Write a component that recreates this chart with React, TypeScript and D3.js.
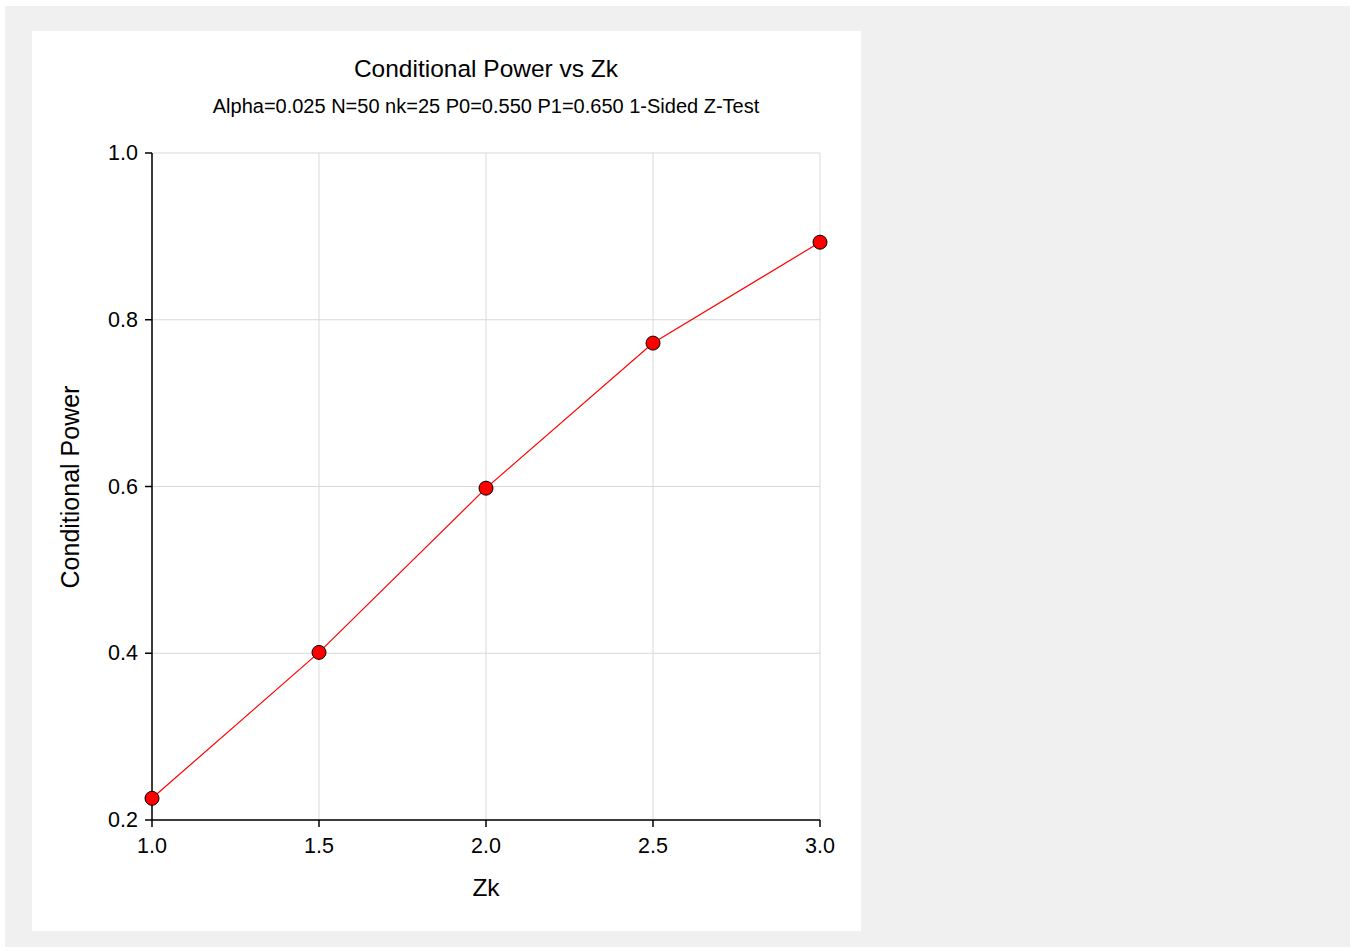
import React from "react";
import * as d3 from "d3";

const zkValues = [1.0, 1.5, 2.0, 2.5, 3.0];
const powerValues = [0.226, 0.401, 0.598, 0.772, 0.893];
const xTicks = [1.0, 1.5, 2.0, 2.5, 3.0];
const yTicks = [0.2, 0.4, 0.6, 0.8, 1.0];
const titleText = "Conditional Power vs Zk";
const subtitleText = "Alpha=0.025 N=50 nk=25 P0=0.550 P1=0.650 1-Sided Z-Test";
const xLabel = "Zk";
const yLabel = "Conditional Power";

export default function App() {
  const W = 1354, H = 951;
  const left = 152, right = 820, top = 153, bottom = 820;
  const x = d3.scaleLinear().domain([1, 3]).range([left, right]);
  const y = d3.scaleLinear().domain([0.2, 1.0]).range([bottom, top]);
  const line = d3.line<number>().x((_, i) => x(zkValues[i])).y((d) => y(d));
  const font = "'Liberation Sans', Arial, sans-serif";
  return (
    <svg width={W} height={H} style={{ position: "absolute", left: 0, top: 0 }} fontFamily={font}>
      <rect x={0} y={0} width={W} height={H} fill="#ffffff" />
      <rect x={5} y={6} width={1345} height={941} fill="#f0f0f0" />
      <rect x={32} y={31} width={829} height={900} fill="#ffffff" />
      {xTicks.map((t) => (
        <line key={"gx" + t} x1={x(t)} x2={x(t)} y1={top} y2={bottom} stroke="#d9d9d9" strokeWidth={1} />
      ))}
      {yTicks.map((t) => (
        <line key={"gy" + t} x1={left} x2={right} y1={y(t)} y2={y(t)} stroke="#d9d9d9" strokeWidth={1} />
      ))}
      <line x1={left} x2={left} y1={top} y2={bottom} stroke="#000" strokeWidth={1.5} />
      <line x1={left} x2={right} y1={bottom} y2={bottom} stroke="#000" strokeWidth={1.5} />
      {xTicks.map((t) => (
        <g key={"tx" + t}>
          <line x1={x(t)} x2={x(t)} y1={bottom} y2={bottom + 7} stroke="#000" strokeWidth={1.5} />
          <text x={x(t)} y={bottom + 33} textAnchor="middle" fontSize={21.5} fill="#000">
            {t.toFixed(1)}
          </text>
        </g>
      ))}
      {yTicks.map((t) => (
        <g key={"ty" + t}>
          <line x1={left - 7} x2={left} y1={y(t)} y2={y(t)} stroke="#000" strokeWidth={1.5} />
          <text x={left - 14} y={y(t) + 7} textAnchor="end" fontSize={21.5} fill="#000">
            {t.toFixed(1)}
          </text>
        </g>
      ))}
      <path d={line(powerValues) || ""} fill="none" stroke="#ff0000" strokeWidth={1.2} />
      {powerValues.map((v, i) => (
        <circle key={"p" + i} cx={x(zkValues[i])} cy={y(v)} r={7} fill="#ff0000" stroke="#000" strokeWidth={1} />
      ))}
      <text x={486} y={77} textAnchor="middle" fontSize={24.5} fill="#000">{titleText}</text>
      <text x={486} y={113} textAnchor="middle" fontSize={20} fill="#000">{subtitleText}</text>
      <text x={486} y={896} textAnchor="middle" fontSize={24.5} fill="#000">{xLabel}</text>
      <text transform={`translate(79,487) rotate(-90)`} textAnchor="middle" fontSize={25} fill="#000">{yLabel}</text>
    </svg>
  );
}
